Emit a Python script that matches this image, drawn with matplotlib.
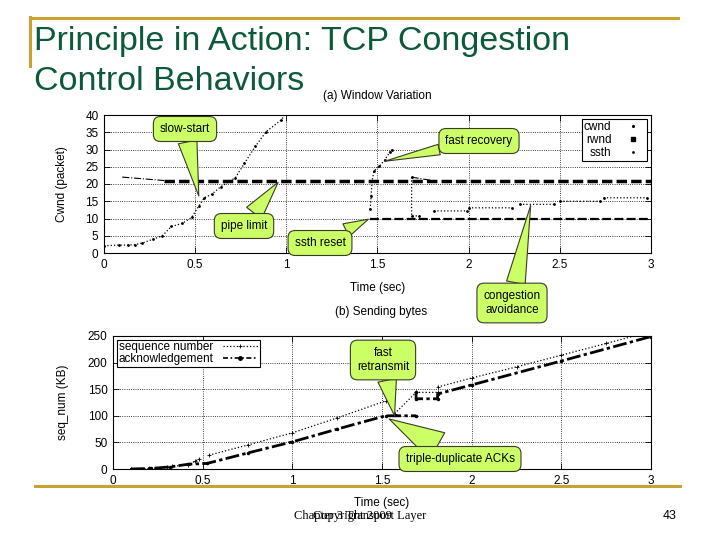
import numpy as np
import matplotlib
matplotlib.use('Agg')
import matplotlib.pyplot as plt
from matplotlib.lines import Line2D

plt.rcParams['font.family'] = ['Liberation Sans', 'DejaVu Sans']

nan = np.nan

# (a) Window Variation
cwnd_t = [0, 0.08, 0.13, 0.17, 0.21, 0.27, 0.32, 0.37, 0.43, 0.48, 0.52, 0.55, 0.59, 0.64,
          0.72, 0.77, 0.83, 0.89, 0.97, 1.0, nan,
          1.46, 1.465, 1.47, 1.48, 1.51, 1.54, 1.57, 1.58, nan,
          1.687, 1.687, 1.73, nan,
          1.81, 1.99, nan, 2.0, 2.24, nan, 2.28, 2.47, nan, 2.5, 2.72, nan, 2.74, 2.98]
cwnd_v = [2.1, 2.3, 2.3, 2.4, 2.9, 4.0, 5.0, 7.7, 8.6, 10.3, 13.6, 16.0, 17.0, 19.2,
          21.8, 26.0, 30.9, 35.2, 38.5, 40.5, nan,
          12.7, 16.5, 20.8, 23.7, 25.1, 27.0, 29.4, 30.0, nan,
          22.0, 10.7, 10.8, nan,
          12.2, 12.2, nan, 13.1, 13.1, nan, 14.1, 14.1, nan, 15.0, 15.0, nan, 16.0, 16.0]
rwnd_t = [0.33, 3.0]
rwnd_v = [21, 21]
ssth_t = [0.1, 0.33, nan, 1.687, 1.8, nan, 1.46, 3.0]
ssth_v = [22, 21, nan, 22, 21, nan, 10, 10]

# (b) Sending bytes
seq_t = [0.1, 0.2, 0.3, 0.33, 0.42, 0.46, 0.48, nan, 0.535, 0.75, 1.0, 1.25, 1.52, nan,
         1.57, 1.69, 1.81, nan, 1.81, 2.0, 2.25, 2.5, 2.75, 2.95]
seq_v = [0, 1, 3, 5, 8, 15, 19, nan, 26, 45, 68, 96, 128, nan,
         104, 144, 144, nan, 154, 171, 192, 214, 236, 254]
ack_t = [0.1, 0.21, 0.32, 0.42, 0.525, 0.75, 1.0, 1.25, 1.52, 1.69, nan,
         1.69, 1.69, 1.81, 1.81, 2.0, 2.5, 3.0]
ack_v = [0, 1, 4, 9, 10.5, 30, 51, 75, 100, 100, nan,
         145, 132, 132, 141, 158, 203, 249]

W, H = 720, 540
gold = '#c9a230'
green = '#ccff66'
edge = '#3a3a2a'


def fx(x):
    return x / W


def fy(y):
    return 1 - y / H


fig = plt.figure(figsize=(7.2, 5.4), dpi=100)

# slide decorations
fig.add_artist(Line2D([fx(30), fx(678)], [fy(18), fy(18)], color=gold, lw=2.2))
fig.add_artist(Line2D([fx(30), fx(30)], [fy(17), fy(66)], color=gold, lw=2.2))
fig.add_artist(Line2D([fx(35), fx(680)], [fy(486), fy(486)], color=gold, lw=2.2, zorder=5))
fig.text(fx(34), fy(50), 'Principle in Action: TCP Congestion', fontsize=24.5,
         color='#0d5a3a', va='baseline')
fig.text(fx(34), fy(90), 'Control Behaviors', fontsize=24.5, color='#0d5a3a', va='baseline')
fig.text(fx(360), fy(516), 'Chapter 3 Transport Layer', family='Liberation Serif',
         fontsize=9, ha='center', va='center')
fig.text(fx(352), fy(516), 'Copyright 2009', family='Liberation Serif',
         fontsize=9, ha='center', va='center')
fig.text(fx(670), fy(516), '43', fontsize=9, ha='center', va='center')

ax1 = fig.add_axes([fx(104), fy(253), (651 - 104) / W, (253 - 115) / H])
ax2 = fig.add_axes([fx(113), fy(469), (651 - 113) / W, (469 - 336) / H])

for ax in (ax1, ax2):
    ax.tick_params(direction='in', top=True, right=True, length=4, width=0.6,
                   labelsize=8.5, pad=4)
    ax.grid(True, ls=':', color='k', lw=0.6)
    ax.set_axisbelow(True)
    for s in ax.spines.values():
        s.set_linewidth(0.8)
    ax.set_xlim(0, 3)
    ax.set_xticks(np.arange(0, 3.01, 0.5))
    ax.set_xticklabels(['0', '0.5', '1', '1.5', '2', '2.5', '3'])

# (a)
ax1.plot(cwnd_t, cwnd_v, ls=':', lw=0.9, color='k', marker='.', ms=2)
ax1.plot(rwnd_t, rwnd_v, color='k', lw=2.5, dashes=(3, 1.2))
ax1.plot(ssth_t[:5], ssth_v[:5], color='k', lw=0.8, ls='-.')
ax1.plot(ssth_t[6:], ssth_v[6:], color='k', lw=1.6, dashes=(4, 1.5))
ax1.set_ylim(0, 40)
ax1.set_yticks(range(0, 41, 5))
ax1.set_ylabel('Cwnd (packet)', fontsize=8.5)
ax1.yaxis.set_label_coords(-0.066, 0.5)
ax1.set_xlabel('Time (sec)', fontsize=8.5)
ax1.xaxis.set_label_coords(0.5, -0.21)
fig.text(fx(377), fy(96), '(a) Window Variation', fontsize=8.5, ha='center', va='center')

h1 = [Line2D([], [], ls='none', marker='.', ms=2.5, color='k'),
      Line2D([], [], ls='none', marker='s', ms=2.5, color='k'),
      Line2D([], [], ls='none', marker='.', ms=2, color='k')]
leg1 = ax1.legend(h1, ['cwnd', 'rwnd', 'ssth'], loc='upper right', markerfirst=False,
                  fontsize=8.5, fancybox=False, edgecolor='k', framealpha=1,
                  handlelength=2, borderpad=0.2, labelspacing=0.05, borderaxespad=0.35)
leg1.get_frame().set_linewidth(0.8)

# (b)
ax2.plot(seq_t, seq_v, ls=':', lw=0.9, color='k', marker='+', ms=2.5, mew=0.6)
ax2.plot(ack_t, ack_v, color='k', lw=2, dashes=(5, 1.2, 1.2, 1.2), marker='.', ms=3)
ax2.set_ylim(0, 250)
ax2.set_yticks(range(0, 251, 50))
ax2.set_ylabel('seq_num (KB)', fontsize=8.5)
ax2.yaxis.set_label_coords(-0.082, 0.5)
ax2.set_xlabel('Time (sec)', fontsize=8.5)
ax2.xaxis.set_label_coords(0.5, -0.21)
fig.text(fx(381), fy(312), '(b) Sending bytes', fontsize=8.5, ha='center', va='center')

h2 = [Line2D([], [], ls=':', lw=0.9, color='k', marker='+', ms=3, mew=0.6),
      Line2D([], [], color='k', lw=1.2, dashes=(3, 1.5, 1, 1.5), marker='o', ms=2.5)]
leg2 = ax2.legend(h2, ['sequence number', 'acknowledgement'], loc='upper left',
                  markerfirst=False, fontsize=8.5, fancybox=False, edgecolor='k',
                  framealpha=1, handlelength=3, borderpad=0.15, labelspacing=0.0,
                  borderaxespad=0.3)
leg2.get_frame().set_linewidth(0.8)

# callouts: (axes, text, tip data point, box centre in pixels, tail width)
callouts = [
    (ax1, 'slow-start', (0.52, 16.5), (185, 129), 1.6),
    (ax1, 'fast recovery', (1.54, 26.6), (479, 141), 0.9),
    (ax1, 'pipe limit', (0.955, 20.5), (244, 226), 1.6),
    (ax1, 'ssth reset', (1.45, 9.8), (320, 243), 1.2),
    (ax1, 'congestion\navoidance', (2.34, 13.8), (512, 303), 1.6),
    (ax2, 'fast\nretransmit', (1.57, 100), (383, 360), 1.6),
    (ax2, 'triple-duplicate ACKs', (1.54, 94), (460, 459), 2.6),
]
for ax, txt, tip, box, tw in callouts:
    ax.annotate(txt, xy=tip, xycoords='data', xytext=(box[0], H - box[1]),
                textcoords='figure pixels', ha='center', va='center', fontsize=8.5,
                linespacing=1.3,
                bbox=dict(boxstyle='round,pad=0.55,rounding_size=0.6', fc=green, ec=edge, lw=0.8),
                arrowprops=dict(arrowstyle='wedge,tail_width=%s' % tw, fc=green, ec=edge,
                                lw=0.8, shrinkA=0, shrinkB=0),
                annotation_clip=False, zorder=10)

fig.savefig('out.png', dpi=100)
